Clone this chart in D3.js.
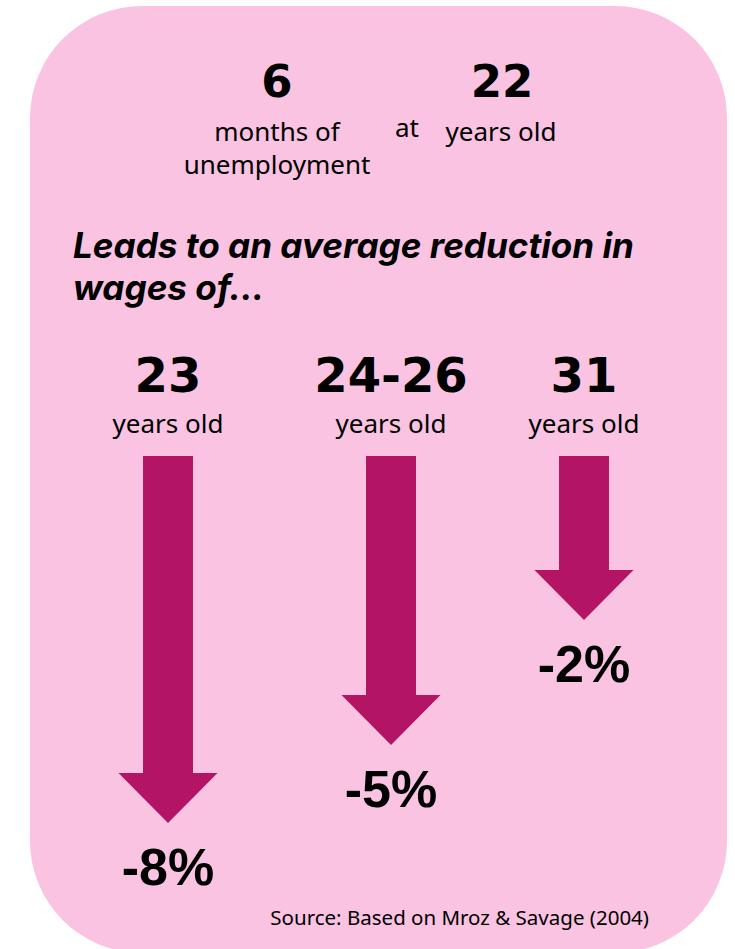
<!DOCTYPE html>
<html>
<head>
<meta charset="utf-8">
<script src="https://cdn.jsdelivr.net/npm/d3@7"></script>
<style>
  html, body { margin: 0; padding: 0; background: #ffffff; }
  svg { display: block; }
</style>
</head>
<body>
<script>
// Headline figures
const unemploymentMonths = "6";
const unemploymentCaption = ["months of", "unemployment"];
const joinWord = "at";
const startAge = "22";
const startAgeCaption = "years old";

// Wage effect by later age
const ages = ["23", "24-26", "31"];
const ageCaption = "years old";
const wageChange = [-8, -5, -2];

const heading = ["Leads to an average reduction in", "wages of..."];
const source = "Source: Based on Mroz & Savage (2004)";

const W = 735, H = 949;
const pink = "#f9c3e1";
const magenta = "#b41464";
const numFont = "'DejaVu Sans', sans-serif";
const bodyFont = "'Noto Sans', sans-serif";

const svg = d3.select("body").append("svg")
  .attr("width", W).attr("height", H);

// Card
svg.append("rect")
  .attr("x", 30).attr("y", 6)
  .attr("width", 697).attr("height", 947)
  .attr("rx", 112).attr("ry", 112)
  .attr("fill", pink);

// Top statement
const intro = svg.append("g");
intro.append("text")
  .attr("x", 277).attr("y", 97)
  .attr("text-anchor", "middle")
  .style("font-family", numFont).style("font-weight", 700).style("font-size", "45px")
  .text(unemploymentMonths);
intro.append("text")
  .attr("x", 502).attr("y", 97)
  .attr("text-anchor", "middle")
  .style("font-family", numFont).style("font-weight", 700).style("font-size", "45px")
  .text(startAge);
intro.selectAll("text.cap")
  .data(unemploymentCaption)
  .join("text")
  .attr("class", "cap")
  .attr("x", 277).attr("y", (d, i) => 141 + i * 33)
  .attr("text-anchor", "middle")
  .style("font-family", bodyFont).style("font-size", "26px")
  .text(d => d);
intro.append("text")
  .attr("x", 407).attr("y", 137)
  .attr("text-anchor", "middle")
  .style("font-family", bodyFont).style("font-size", "26px")
  .text(joinWord);
intro.append("text")
  .attr("x", 501).attr("y", 141)
  .attr("text-anchor", "middle")
  .style("font-family", bodyFont).style("font-size", "26px")
  .text(startAgeCaption);

// Heading, sized so the first line runs to the card's inner margin
const headingLines = svg.append("g").selectAll("text")
  .data(heading)
  .join("text")
  .attr("x", 73).attr("y", (d, i) => 258 + i * 42)
  .style("font-family", "Inter, sans-serif").style("font-weight", 700)
  .style("font-style", "italic").style("font-size", "29px")
  .text(d => d);
const firstLen = headingLines.node().getComputedTextLength();
if (firstLen > 0) {
  headingLines.style("font-size", (29 * 561 / firstLen).toFixed(2) + "px");
}

// Scales
const x = d3.scaleOrdinal().domain(ages).range([168, 391, 584]);
const shaftTop = 456;
const y = d3.scaleSymlog().constant(1.7).domain([0, -8]).range([shaftTop, 823]);

const shaftW = 50, headW = 99, headH = 50;

const data = ages.map((a, i) => ({ age: a, change: wageChange[i] }));

const cols = svg.append("g").selectAll("g")
  .data(data)
  .join("g");

cols.append("text")
  .attr("x", d => x(d.age)).attr("y", 392)
  .attr("text-anchor", "middle")
  .style("font-family", numFont).style("font-weight", 700).style("font-size", "48px")
  .text(d => d.age);

cols.append("text")
  .attr("x", d => x(d.age)).attr("y", 433)
  .attr("text-anchor", "middle")
  .style("font-family", bodyFont).style("font-size", "26px")
  .text(ageCaption);

cols.append("path")
  .attr("fill", magenta)
  .attr("d", d => {
    const cx = x(d.age), tip = y(d.change), neck = tip - headH;
    const p = d3.path();
    p.moveTo(cx - shaftW / 2, shaftTop);
    p.lineTo(cx + shaftW / 2, shaftTop);
    p.lineTo(cx + shaftW / 2, neck);
    p.lineTo(cx + headW / 2, neck);
    p.lineTo(cx, tip);
    p.lineTo(cx - headW / 2, neck);
    p.lineTo(cx - shaftW / 2, neck);
    p.closePath();
    return p.toString();
  });

cols.append("text")
  .attr("x", d => x(d.age)).attr("y", d => y(d.change) + 62)
  .attr("text-anchor", "middle")
  .style("font-family", "'Liberation Sans', Arial, sans-serif").style("font-weight", 700)
  .style("font-size", "52px")
  .text(d => d.change + "%");

// Source note
svg.append("text")
  .attr("x", 649).attr("y", 925)
  .attr("text-anchor", "end")
  .style("font-family", bodyFont).style("font-size", "20.5px")
  .text(source);
</script>
</body>
</html>
